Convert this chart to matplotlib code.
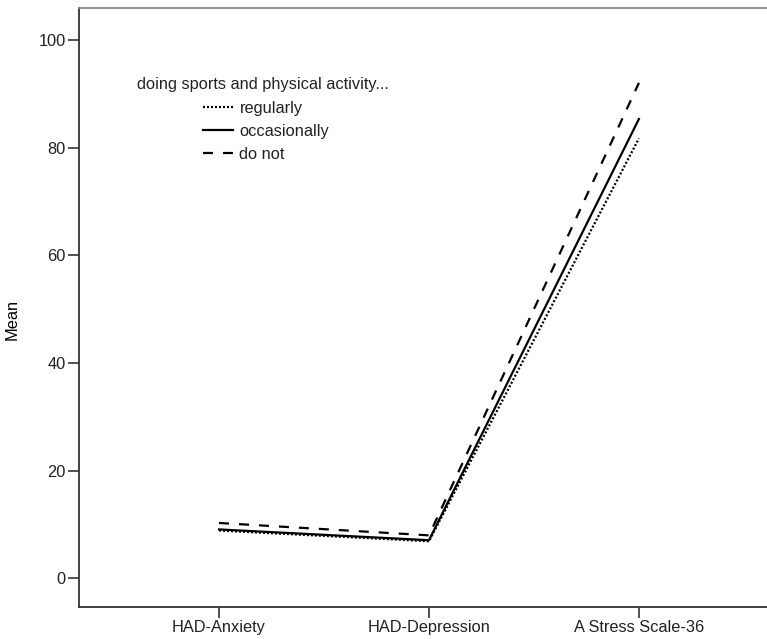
import matplotlib.pyplot as plt
import numpy as np

plt.rcParams["font.family"] = ["Liberation Sans", "DejaVu Sans"]

categories = ["HAD-Anxiety", "HAD-Depression", "A Stress Scale-36"]
legend_title = "doing sports and physical activity..."
groups = ["regularly", "occasionally", "do not"]
means = {
    "regularly": [8.9, 6.9, 81.7],
    "occasionally": [9.1, 7.1, 85.3],
    "do not": [10.3, 8.0, 92.0],
}
styles = {
    "regularly": (0, (0.9, 0.9)),
    "occasionally": "-",
    "do not": (0, (4.5, 4.5)),
}
yticks = [0, 20, 40, 60, 80, 100]
FS = 11.8

fig = plt.figure(figsize=(7.67, 6.39), dpi=100)
ax = fig.add_axes([79 / 767, 32 / 639, 1 - 79 / 767, 599 / 639])

x = np.arange(len(categories))
for g in groups:
    ax.plot(x, means[g], color="black", linewidth=1.6, linestyle=styles[g], label=g)

ax.set_xlim(-0.667, 2.61)
ax.set_ylim(-5.3, 105.9)
ax.set_xticks(x)
ax.set_xticklabels(categories, fontsize=FS)
ax.set_yticks(yticks)
ax.set_yticklabels([str(v) for v in yticks], fontsize=FS)
ax.tick_params(length=8, width=1.2, color="#333333", pad=1.5, labelcolor="#222222")
ax.set_ylabel("Mean", fontsize=FS)
ax.yaxis.set_label_coords(19.5 / 767, 0.5, transform=fig.transFigure)

for s in ["left", "bottom"]:
    ax.spines[s].set_color("#333333")
    ax.spines[s].set_linewidth(1.3)
ax.spines["top"].set_color("#888888")
ax.spines["top"].set_linewidth(1.3)
ax.spines["right"].set_visible(False)

ax.text(137, 639 - 85, legend_title, transform=None, fontsize=FS,
        va="center", ha="left", color="#222222")
leg = ax.legend(frameon=False, fontsize=FS, handlelength=1.85, handletextpad=0.37,
                labelspacing=0.48, loc="upper left",
                bbox_to_anchor=(203 / 767, 1 - 101 / 639), bbox_transform=fig.transFigure,
                borderpad=0, borderaxespad=0)
for line in leg.get_lines():
    line.set_linewidth(1.6)
for t in leg.get_texts():
    t.set_color("#222222")

fig.savefig("out.png", dpi=100)
